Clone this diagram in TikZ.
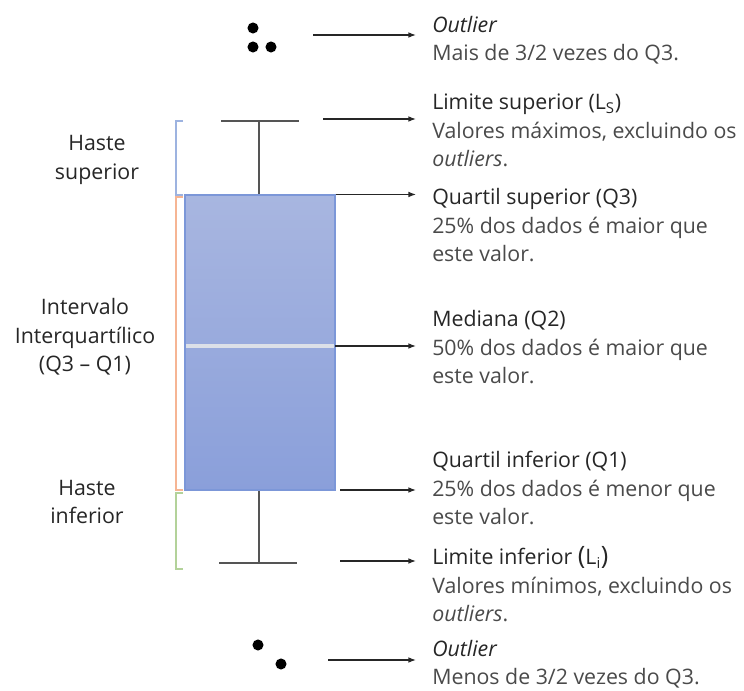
\documentclass[tikz,border=0pt]{standalone}
\usepackage{fontspec}
\setmainfont{Open Sans}
\usepackage{tikz}
\usetikzlibrary{arrows.meta,positioning,calc}
\definecolor{boxtop}{HTML}{A8B6E0}
\definecolor{boxbot}{HTML}{8A9FDA}
\definecolor{boxline}{HTML}{7C97D8}
\definecolor{medline}{HTML}{DCE0E8}
\definecolor{whisk}{HTML}{555555}
\definecolor{titlegray}{HTML}{262626}
\definecolor{txtgray}{HTML}{4A4A4A}
\definecolor{brblue}{HTML}{9DB3E0}
\definecolor{brorange}{HTML}{F6B594}
\definecolor{brgreen}{HTML}{B3D29A}
\tikzset{
  note/.style={anchor=base west, align=left, inner sep=0pt, text=txtgray, font=\fontsize{16}{21.5}\selectfont},
  side/.style={align=center, inner sep=0pt, text=titlegray, font=\fontsize{16}{21.5}\selectfont},
  boxq/.style={draw=boxline, top color=boxtop, bottom color=boxbot, line width=0.8pt, inner sep=0pt},
  whisker/.style={draw=whisk, line width=1.1pt},
  median/.style={draw=medline, line width=2.4pt},
  arrow/.style={-{Latex[length=2mm,width=1.5mm]}, line width=0.9pt, draw=black!85},
  dot/.style={circle, fill=black, inner sep=0pt, minimum size=8.3pt},
  brace/.style={line width=0.8pt}
}
\newcommand{\ttl}[1]{\textcolor{titlegray}{#1}}
\newcommand{\bigpar}[1]{{\fontsize{19}{19}\selectfont(}#1{\fontsize{19}{19}\selectfont)}}
\begin{document}
\begin{tikzpicture}[x=0.75pt,y=-0.75pt]
  \useasboundingbox (0,0) rectangle (744,691);

  % box and whiskers
  \node[boxq, minimum width=112.5pt, minimum height=221.25pt] (box) at (260,342.5) {};
  \coordinate (medL) at (186,346);
  \coordinate (medR) at (334,346);
  \draw[median] (medL) -- (medR);
  \coordinate (upC) at (259,121);
  \coordinate (upL) at (221,121);
  \coordinate (upR) at (299,121);
  \coordinate (loC) at (259,563);
  \coordinate (loL) at (219,563);
  \coordinate (loR) at (297,563);
  \draw[whisker] (upL) -- (upR);
  \draw[whisker] (upC) -- (box.north -| upC);
  \draw[whisker] (loL) -- (loR);
  \draw[whisker] (loC) -- (box.south -| loC);

  % outliers
  \node[dot] (o1) at (253,28) {};
  \node[dot] (o2) at (253,47) {};
  \node[dot] (o3) at (271,47) {};
  \node[dot] (o4) at (258,645) {};
  \node[dot] (o5) at (281,664) {};

  % brackets
  \draw[brace, brblue] (183,121) -- (176,121) -- (176,195) -- (183,195);
  \draw[brace, brorange] (183,197) -- (176,197) -- (176,490) -- (183,490);
  \draw[brace, brgreen] (183,493) -- (176,493) -- (176,569) -- (183,569);

  \node[side] (hsup) at (97,160) {Haste\\superior};
  \node[side] (iqr) at (85,337) {Intervalo\\Interquartílico\\(Q3 -- Q1)};
  \node[side] (hinf) at (87,502) {Haste\\inferior};

  % notes (anchored at the baseline of their last line)
  \coordinate (tip) at (416,0);
  \node[note] (outsup) at (432,61) {\ttl{\textit{Outlier}}\\Mais de 3/2 vezes do Q3.};
  \node[note] (lsup) at (432,167) {\ttl{Limite superior (L\textsubscript{S})}\\Valores máximos, excluindo os\\\textit{outliers}.};
  \node[note] (q3) at (432,262) {\ttl{Quartil superior (Q3)}\\25\% dos dados é maior que\\este valor.};
  \node[note] (q2) at (432,384) {\ttl{Mediana (Q2)}\\50\% dos dados é maior que\\este valor.};
  \node[note] (q1) at (432,525) {\ttl{Quartil inferior (Q1)}\\25\% dos dados é menor que\\este valor.};
  \node[note] (linf) at (432,622) {\ttl{Limite inferior \bigpar{L\textsubscript{i}}}\\Valores mínimos, excluindo os\\\textit{outliers}.};
  \node[note] (outinf) at (432,685) {\ttl{\textit{Outlier}}\\Menos de 3/2 vezes do Q3.};

  \coordinate (a1) at (313,35);
  \coordinate (a2) at (323,119);
  \coordinate (a5) at (340,490);
  \coordinate (a6) at (340,561);
  \coordinate (a7) at (328,660);
  \draw[arrow] (a1) -- (a1 -| tip);
  \draw[arrow] (a2) -- (a2 -| tip);
  \draw[arrow] (box.north east) -- (box.north east -| tip);
  \draw[arrow] (medR) ++(1,0) -- (medR -| tip);
  \draw[arrow] (a5) -- (a5 -| tip);
  \draw[arrow] (a6) -- (a6 -| tip);
  \draw[arrow] (a7) -- (a7 -| tip);
\end{tikzpicture}
\end{document}
